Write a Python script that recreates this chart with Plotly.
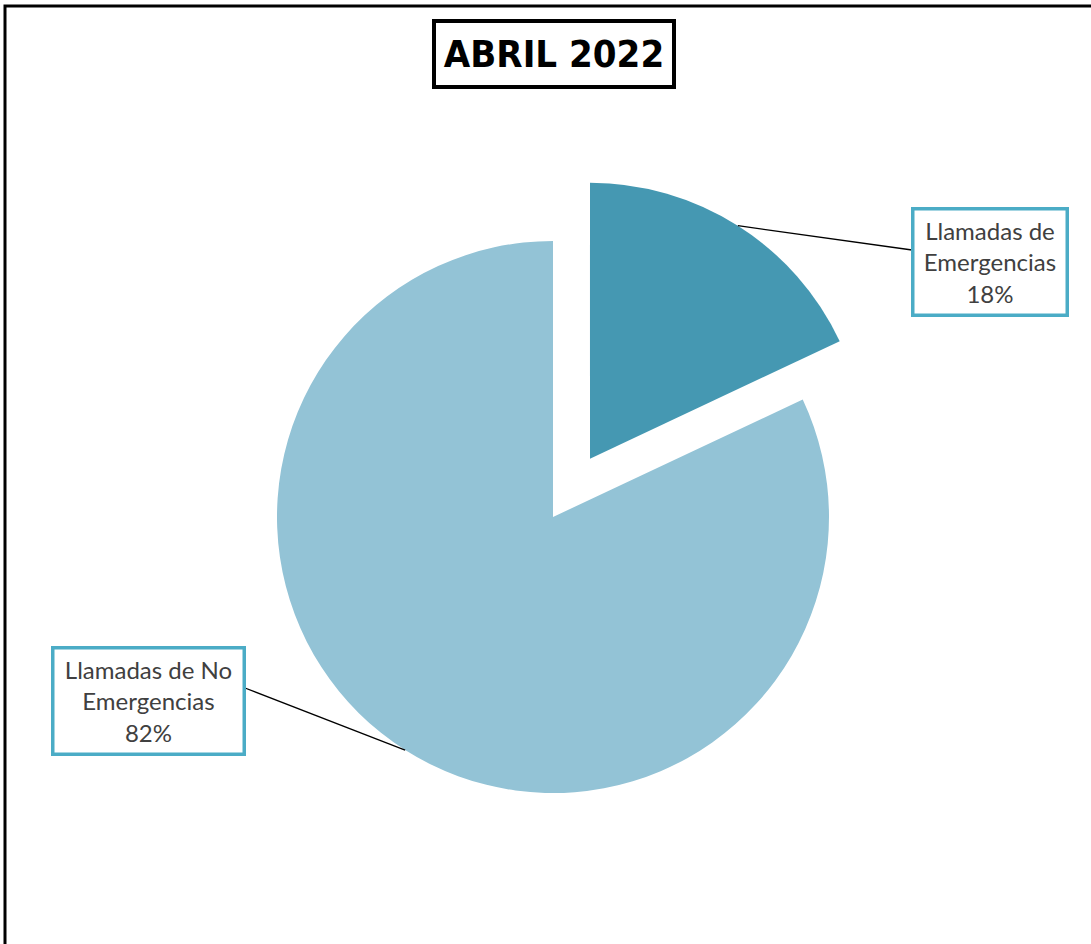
import math
import plotly.graph_objects as go

# ---- data ----
categories = ["Llamadas de Emergencias", "Llamadas de No Emergencias"]
label_lines = ["Llamadas de<br>Emergencias", "Llamadas de No<br>Emergencias"]
values = [18, 82]
pulls = [0.25, 0.0]
colors = ["#4598B2", "#93C3D6"]
title_text = "ABRIL 2022"

W, H = 1091, 944
OFF = 0  # body margin removed via post_script

def px(x):
    return (x - OFF) / W

def py(y):
    return 1 - (y - OFF) / H

# pie geometry (page pixels)
cx, cy, r = 553, 517, 276
maxpull = max(pulls)
half = r * (1 + maxpull)
dom_x = [px(cx - half), px(cx + half)]
dom_y = [py(cy + half), py(cy - half)]

fig = go.Figure(go.Pie(
    labels=categories,
    values=values,
    pull=pulls,
    sort=False,
    direction="clockwise",
    rotation=0,
    marker=dict(colors=colors, line=dict(width=0)),
    textinfo="none",
    hoverinfo="skip",
    domain=dict(x=dom_x, y=dom_y),
    showlegend=False,
))

boxes = [
    dict(cx=989.5, cy=261.5, w=155, h=107, end=(912, 250)),
    dict(cx=148, cy=700.5, w=192, h=107, end=(245, 688)),
]

total = sum(values)
start = 0.0
shapes = []
annotations = []
for i, v in enumerate(values):
    frac = v / total
    mid = (start + frac / 2) * 2 * math.pi
    start += frac
    sx = cx + pulls[i] * r * math.sin(mid)
    sy = cy - pulls[i] * r * math.cos(mid)
    ex = sx + r * math.sin(mid)
    ey = sy - r * math.cos(mid)
    b = boxes[i]
    shapes.append(dict(type="line", xref="paper", yref="paper",
                       x0=px(ex), y0=py(ey), x1=px(b["end"][0]), y1=py(b["end"][1]),
                       line=dict(color="#000000", width=1.3)))
    pct = round(100 * v / total)
    annotations.append(dict(
        xref="paper", yref="paper", x=px(b["cx"]), y=py(b["cy"]),
        xanchor="center", yanchor="middle", showarrow=False,
        text=f"{label_lines[i]}<br>{pct}%",
        font=dict(family="Lato, 'Open Sans', sans-serif", size=24, color="#404040"),
        align="center", width=b["w"] - 4, height=b["h"] - 4,
        bordercolor="#4BACC6", borderwidth=3.5, borderpad=0,
        bgcolor="#FFFFFF",
    ))

annotations.append(dict(
    xref="paper", yref="paper", x=px(554), y=py(54),
    xanchor="center", yanchor="middle", showarrow=False,
    text=f"<b>{title_text}</b>",
    font=dict(family="'DejaVu Sans Condensed', Lato, sans-serif", size=38, color="#000000"),
    width=236, height=62, bordercolor="#000000", borderwidth=4, borderpad=0,
    bgcolor="#FFFFFF",
))

# outer frame (extends past right and bottom edges)
shapes.append(dict(type="rect", xref="paper", yref="paper",
                   x0=px(5), y0=-0.05, x1=1.05, y1=py(6),
                   line=dict(color="#000000", width=3)))

fig.update_layout(
    width=W, height=H,
    margin=dict(l=0, r=0, t=0, b=0),
    paper_bgcolor="#FFFFFF",
    plot_bgcolor="#FFFFFF",
    shapes=shapes,
    annotations=annotations,
)

fig.write_html("out.html", config={"displayModeBar": False},
               post_script="document.body.style.margin='0px';")
